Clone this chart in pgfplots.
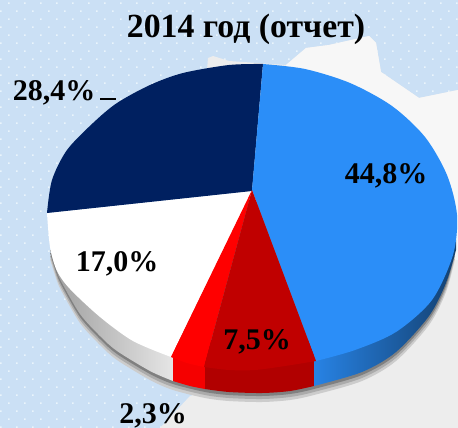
\documentclass[border=0pt]{standalone}
\usepackage{fontspec}
\setmainfont{Liberation Serif}
\usepackage{pgfplots}
\pgfplotsset{compat=1.18}
\usetikzlibrary{patterns}
\pgfdeclarepatternformonly{bgdots}{\pgfqpoint{-1pt}{-1pt}}{\pgfqpoint{17pt}{17pt}}{\pgfqpoint{16pt}{16pt}}{
  \pgfpathrectangle{\pgfqpoint{0pt}{0pt}}{\pgfqpoint{1.7pt}{1.7pt}}
  \pgfpathrectangle{\pgfqpoint{8pt}{8pt}}{\pgfqpoint{1.7pt}{1.7pt}}
  \pgfusepath{fill}
}
\definecolor{bgblue}{HTML}{CBE0F5}
\definecolor{dotc}{HTML}{EAF5FC}
\definecolor{pnavy}{HTML}{002060}
\definecolor{pblue}{HTML}{2B8EF8}
\definecolor{pdred}{HTML}{C00000}
\newcommand{\lab}[3]{\node[anchor=base,inner sep=0pt] at (axis cs:#1,#2) {\fontsize{30}{31}\selectfont\bfseries #3};}
\begin{document}
\begin{tikzpicture}
\begin{axis}[x=1pt,y=1pt,xmin=0,xmax=458,ymin=0,ymax=428,y dir=reverse,
  scale only axis,axis lines=none,clip=true,ticks=none,enlargelimits=false]
% background
\addplot[draw=none,fill=bgblue,forget plot] coordinates {(0,0)(458,0)(458,428)(0,428)} -- cycle;
\addplot[draw=none,pattern=bgdots,pattern color=dotc,forget plot] coordinates {(0,0)(458,0)(458,428)(0,428)} -- cycle;
\addplot[draw=none,fill=black!7,forget plot] coordinates {
 (208,58)(213,56)(229,61)(286,65)(306,48)(329,45)(369,36)(376,43)(381,72)(419,98)(458,90)
 (458,428)(160,428)(190,396)(210,390)(250,250)(207,70)} -- cycle;
\addplot[draw=none,fill=black!3,forget plot] coordinates {
 (286,65)(306,48)(329,45)(369,36)(376,43)(381,72)(419,98)(458,90)(458,260)(286,260)} -- cycle;
% shadow
\addplot[draw=none,smooth,fill=black!20,forget plot] coordinates {
 (50,259)(57,281)(62,292)(80,323)(100,345)(117,360)(150,380)(173,390)(205,398)(229,401)(262,402)(290,400)(314,395)(362,381)(396,361)(429,325)(446,292)(455,259)} -- (axis cs:250,200) -- cycle;
\addplot[draw=none,smooth,fill=black!33,forget plot] coordinates {
 (50,256)(57,278)(62,289)(80,320)(100,342)(117,357)(150,377)(173,387)(205,395)(229,398)(262,399)(290,397)(314,392)(362,378)(396,358)(429,322)(446,289)(455,256)} -- (axis cs:250,200) -- cycle;
\addplot[draw=none,smooth,fill=black!50,forget plot] coordinates {
 (50,253)(57,275)(62,286)(80,317)(100,339)(117,354)(150,374)(173,384)(205,392)(229,395)(262,396)(290,394)(314,389)(362,375)(396,355)(429,319)(446,286)(455,253)} -- (axis cs:250,200) -- cycle;
% sides
\addplot[smooth,draw=none,left color=black!38,right color=black!10,forget plot] coordinates {
 (50,250)(57,272)(62,283)(80,314)(100,336)(117,351)(150,371)(173,381)} -- (axis cs:173,340) -- (axis cs:60,250) -- cycle;
\addplot[smooth,draw=none,fill=red!96!black,forget plot] coordinates {
 (173,381)(190,386)(205,389)} -- (axis cs:205,340) -- (axis cs:173,340) -- cycle;
\addplot[smooth,draw=none,fill=pdred!92!black,forget plot] coordinates {
 (205,389)(229,392)(262,393)(290,391)(314,386)} -- (axis cs:314,340) -- (axis cs:205,340) -- cycle;
\addplot[smooth,draw=none,left color=pblue!92!black,middle color=pblue!85!black,right color=pblue!45!black,forget plot] coordinates {
 (314,386)(362,372)(396,352)(429,316)(446,283)(456,250)} -- (axis cs:456,240) -- (axis cs:314,300) -- cycle;
% top face
\addplot[smooth,draw=none,fill=white,forget plot] coordinates {
 (171,357)(133,341)(100,317)(70,289)(57,271)(50,247)(47,213)} -- (axis cs:252,191) -- cycle;
\addplot[smooth,draw=none,fill=pnavy,forget plot] coordinates {
 (47,213)(52,180)(67,150)(93,123)(117,103)(150,85)(183,73)(229,65)(263,64)} -- (axis cs:252,191) -- cycle;
\addplot[smooth,draw=none,fill=pblue,forget plot] coordinates {
 (263,64)(305,69)(350,83)(392,106)(425,137)(447,175)(457,215)(453,255)(432,300)(396,332)(355,350)(316,361)} -- (axis cs:252,190) -- cycle;
\addplot[smooth,draw=none,fill=red,forget plot] coordinates {
 (171,357)(187,363)(204,367)} -- (axis cs:252,190) -- cycle;
\addplot[smooth,draw=none,fill=pdred,forget plot] coordinates {
 (204,367)(229,370)(255,370)(285,366)(316,361)} -- (axis cs:252,190) -- cycle;
% leader
\addplot[black,line width=1.8pt,forget plot] coordinates {(100,99)(116,99)};
% labels
\node[anchor=base,inner sep=0pt] at (axis cs:246,38) {\fontsize{33.8}{35}\selectfont\bfseries 2014 год (отчет)};
\lab{54}{100}{28,4\%}
\lab{386}{183}{44,8\%}
\lab{117}{271}{17,0\%}
\lab{257}{349}{7,5\%}
\lab{153}{423}{2,3\%}
\end{axis}
\end{tikzpicture}
\end{document}
